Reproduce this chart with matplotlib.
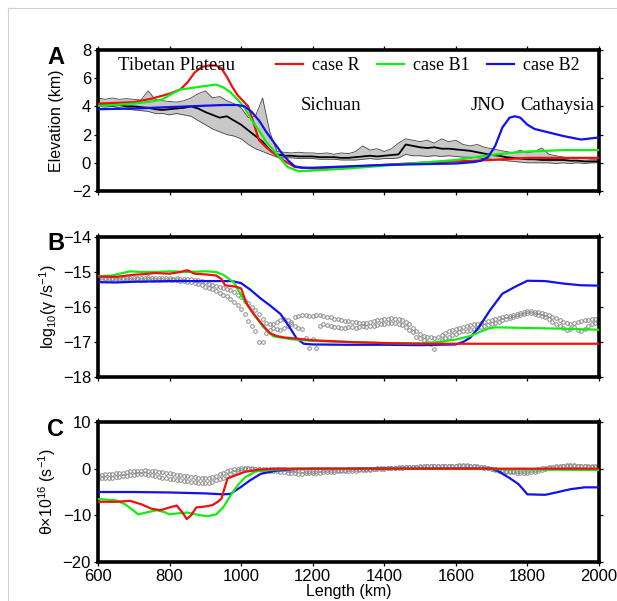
import matplotlib
matplotlib.use("Agg")
import matplotlib.pyplot as plt
from matplotlib.lines import Line2D
import numpy as np

plt.rcParams["font.family"] = ["Liberation Sans", "DejaVu Sans"]
plt.rcParams["mathtext.default"] = "regular"

# ---------------- panel A: elevation ----------------
topo_x = list(range(600, 2001, 20))
topo_mean = [4.1, 4.1, 4.05, 4.1, 4.0, 4.0, 3.95, 3.9, 3.8, 3.75,
             3.8, 3.85, 3.9, 4.0, 3.85, 3.6, 3.4, 3.2, 3.3, 3.0,
             2.7, 2.3, 1.9, 1.5, 0.9, 0.6, 0.5, 0.5, 0.45, 0.45,
             0.45, 0.4, 0.4, 0.4, 0.35, 0.35, 0.4, 0.45, 0.5, 0.45,
             0.5, 0.55, 0.6, 1.3, 1.2, 1.1, 1.05, 1.1, 1.0, 1.0,
             0.95, 0.9, 0.85, 0.75, 0.65, 0.55, 0.5, 0.4, 0.35, 0.3,
             0.25, 0.25, 0.2, 0.2, 0.2, 0.2, 0.15, 0.15, 0.1, 0.1, 0.1]
topo_max = [4.6, 4.5, 4.6, 4.5, 4.55, 4.5, 4.45, 5.1, 4.5, 4.4,
            4.35, 4.3, 4.4, 4.6, 4.9, 5.1, 4.6, 4.7, 4.4, 4.2,
            3.9, 3.2, 3.3, 4.6, 2.2, 0.8, 0.75, 0.7, 0.75, 0.7,
            0.7, 0.65, 0.7, 0.6, 0.7, 0.65, 0.8, 1.2, 0.9, 1.0,
            0.8, 1.0, 1.4, 1.7, 1.6, 1.5, 1.6, 1.4, 1.7, 1.5,
            1.6, 1.3, 1.2, 1.3, 1.1, 1.0, 0.9, 0.8, 0.7, 0.9,
            0.7, 0.8, 1.05, 0.6, 0.5, 0.4, 0.35, 0.35, 0.3, 0.25, 0.25]
topo_min = [4.0, 3.95, 4.0, 3.9, 3.8, 3.75, 3.7, 3.65, 3.5, 3.5,
            3.4, 3.5, 3.4, 3.3, 3.0, 2.7, 2.4, 2.2, 2.0, 1.9,
            1.7, 1.3, 1.0, 0.8, 0.6, 0.4, 0.35, 0.35, 0.3, 0.3,
            0.3, 0.25, 0.25, 0.25, 0.2, 0.2, 0.2, 0.25, 0.3, 0.25,
            0.3, 0.3, 0.35, 0.6, 0.5, 0.5, 0.45, 0.5, 0.45, 0.5,
            0.45, 0.4, 0.4, 0.35, 0.3, 0.25, 0.2, 0.15, 0.1, 0.05,
            0.0, 0.0, 0.0, 0.0, -0.05, 0.0, -0.05, 0.0, -0.05, 0.0, 0.0]

elev_r_x = [600, 650, 700, 750, 800, 830, 850, 870, 890, 910, 930, 945, 960, 975, 990,
            1005, 1020, 1035, 1050, 1070, 1090, 1110, 1130, 1150, 1200, 1300, 1400,
            1500, 1600, 1700, 1800, 1900, 2000]
elev_r = [4.2, 4.25, 4.3, 4.55, 4.9, 5.2, 5.7, 6.4, 6.8, 6.9, 6.9, 6.7, 6.1, 5.4, 4.8,
          4.4, 4.0, 2.8, 1.6, 1.1, 0.7, 0.3, 0.0, -0.3, -0.4, -0.3, -0.15,
          0.0, 0.1, 0.2, 0.35, 0.35, 0.35]
elev_g_x = [600, 650, 700, 750, 780, 800, 830, 860, 900, 930, 950, 970, 990, 1010, 1030,
            1050, 1070, 1090, 1110, 1130, 1160, 1200, 1300, 1400, 1500, 1600, 1700,
            1750, 1800, 1900, 2000]
elev_g = [4.05, 4.1, 4.2, 4.35, 4.5, 4.8, 5.2, 5.3, 5.45, 5.55, 5.35, 5.0, 4.5, 3.9, 3.0,
          2.3, 1.5, 0.9, 0.3, -0.3, -0.6, -0.55, -0.4, -0.2, 0.0, 0.2, 0.55,
          0.7, 0.8, 0.9, 0.9]
elev_b_x = [600, 700, 800, 900, 950, 990, 1010, 1030, 1050, 1070, 1090, 1110, 1130, 1150,
            1170, 1200, 1300, 1400, 1500, 1600, 1650, 1670, 1690, 1710, 1730, 1750, 1765,
            1780, 1800, 1820, 1860, 1900, 1950, 2000]
elev_b = [3.8, 3.85, 3.95, 4.05, 4.1, 4.1, 4.0, 3.6, 3.0, 2.2, 1.5, 0.8, 0.2, -0.25,
          -0.35, -0.35, -0.25, -0.15, -0.1, -0.05, 0.05, 0.15, 0.4, 1.2, 2.5, 3.2, 3.3,
          3.2, 2.7, 2.4, 2.15, 1.9, 1.65, 1.8]

# ---------------- panel B: log10 strain rate ----------------
obs_x = list(range(600, 2001, 10))
obs_b1 = [-15.15, -15.15, -15.16, -15.17, -15.16, -15.18, -15.17, -15.18, -15.18, -15.17,
          -15.18, -15.17, -15.16, -15.17, -15.15, -15.16, -15.17, -15.16, -15.17, -15.18,
          -15.18, -15.19, -15.18, -15.20, -15.19, -15.20, -15.21, -15.22, -15.24, -15.26,
          -15.30, -15.33, -15.36, -15.40, -15.43, -15.46, -15.50, -15.52, -15.58, -15.65,
          -15.72, -15.82, -15.90, -16.00, -16.10, -16.20, -16.35, -16.45, -16.50, -16.48,
          -16.42, -16.38, -16.35, -16.38, -16.42, -16.30, -16.25, -16.22, -16.24, -16.25,
          -16.26, -16.24, -16.22, -16.25, -16.28, -16.30, -16.33, -16.35, -16.38, -16.40,
          -16.40, -16.42, -16.44, -16.45, -16.46, -16.45, -16.43, -16.40, -16.38, -16.36,
          -16.34, -16.33, -16.32, -16.33, -16.35, -16.38, -16.42, -16.50, -16.60, -16.70,
          -16.78, -16.82, -16.85, -16.86, -16.88, -16.85, -16.80, -16.75, -16.70, -16.66,
          -16.62, -16.60, -16.58, -16.55, -16.52, -16.50, -16.48, -16.45, -16.42, -16.40,
          -16.38, -16.35, -16.32, -16.30, -16.27, -16.25, -16.22, -16.20, -16.16, -16.14,
          -16.12, -16.12, -16.13, -16.15, -16.17, -16.20, -16.24, -16.28, -16.32, -16.38,
          -16.42, -16.45, -16.48, -16.45, -16.42, -16.40, -16.38, -16.36, -16.35, -16.34,
          -16.33]
obs_b2 = [-15.20, -15.21, -15.20, -15.22, -15.21, -15.22, -15.22, -15.21, -15.22, -15.22,
          -15.22, -15.21, -15.22, -15.22, -15.21, -15.22, -15.22, -15.23, -15.22, -15.23,
          -15.23, -15.24, -15.24, -15.25, -15.26, -15.28, -15.30, -15.32, -15.35, -15.38,
          -15.42, -15.46, -15.50, -15.55, -15.60, -15.65, -15.70, -15.78, -15.85, -15.95,
          -16.05, -16.20, -16.40, -16.55, -16.70, -17.00, -17.00, -16.75, -16.65, -16.60,
          -16.62, -16.65, -16.60, -16.55, -16.50, -16.55, -16.60, -16.62, -16.90, -17.18,
          -16.92, -17.18, -16.55, -16.50, -16.52, -16.55, -16.58, -16.58, -16.60, -16.60,
          -16.58, -16.58, -16.60, -16.58, -16.55, -16.56, -16.55, -16.54, -16.52, -16.50,
          -16.48, -16.46, -16.45, -16.46, -16.48, -16.52, -16.56, -16.65, -16.72, -16.85,
          -16.90, -16.95, -17.00, -17.05, -17.20, -17.02, -16.95, -16.90, -16.85, -16.80,
          -16.76, -16.72, -16.70, -16.68, -16.66, -16.62, -16.60, -16.58, -16.55, -16.52,
          -16.50, -16.46, -16.42, -16.38, -16.35, -16.32, -16.28, -16.25, -16.22, -16.20,
          -16.18, -16.18, -16.20, -16.22, -16.25, -16.30, -16.35, -16.42, -16.50, -16.55,
          -16.60, -16.65, -16.62, -16.58, -16.65, -16.70, -16.62, -16.55, -16.50, -16.45,
          -16.42]

rate_r_x = [600, 650, 700, 730, 760, 800, 830, 850, 870, 900, 930, 945, 955, 970, 985,
            1000, 1015, 1035, 1055, 1080, 1100, 1120, 1150, 1200, 1300, 1400, 1500, 2000]
rate_r = [-15.13, -15.14, -15.08, -15.06, -15.03, -15.05, -15.0, -14.95, -15.05, -15.07,
          -15.1, -15.2, -15.38, -15.4, -15.42, -15.47, -15.9, -16.2, -16.45, -16.75,
          -16.83, -16.87, -16.9, -16.95, -17.0, -17.03, -17.05, -17.05]
rate_g_x = [600, 640, 660, 690, 720, 760, 800, 850, 900, 930, 950, 980, 1005, 1035, 1060,
            1090, 1140, 1200, 1300, 1400, 1500, 1550, 1600, 1640, 1670, 1690, 1710, 1800,
            1900, 2000]
rate_g = [-15.12, -15.1, -15.05, -14.98, -15.0, -15.0, -14.98, -15.0, -14.98, -15.0,
          -15.08, -15.3, -15.75, -16.2, -16.55, -16.84, -16.92, -16.97, -17.0, -17.03,
          -17.04, -17.0, -16.93, -16.83, -16.7, -16.62, -16.58, -16.6, -16.62, -16.65]
rate_b_x = [600, 650, 700, 800, 900, 975, 1000, 1025, 1055, 1080, 1110, 1135, 1155, 1175,
            1200, 1300, 1400, 1500, 1600, 1620, 1640, 1665, 1695, 1730, 1770, 1800, 1850,
            1900, 1950, 2000]
rate_b = [-15.29, -15.3, -15.28, -15.26, -15.26, -15.26, -15.32, -15.5, -15.76, -15.95,
          -16.2, -16.57, -16.9, -17.05, -17.07, -17.08, -17.08, -17.09, -17.07, -17.0,
          -16.88, -16.57, -16.1, -15.62, -15.4, -15.25, -15.26, -15.33, -15.38, -15.39]

# ---------------- panel C: theta x 1e16 ----------------
obs_c1 = [-1.2, -1.3, -1.2, -1.1, -1.2, -1.0, -1.0, -0.9, -0.8, -0.6,
          -0.6, -0.5, -0.4, -0.3, -0.4, -0.5, -0.6, -0.7, -0.8, -0.9,
          -1.0, -1.1, -1.3, -1.4, -1.5, -1.6, -1.7, -1.8, -1.9, -2.0,
          -2.0, -1.9, -1.7, -1.5, -1.2, -0.9, -0.6, -0.3, -0.1, 0.0,
          0.1, 0.1, 0.1, 0.0, 0.0, 0.0, 0.0, 0.0, 0.0, 0.0,
          0.0, -0.1, -0.1, -0.2, -0.2, -0.3, -0.3, -0.4, -0.4, -0.4,
          -0.4, -0.4, -0.3, -0.3, -0.3, -0.3, -0.2, -0.2, -0.2, -0.2,
          -0.1, -0.1, -0.1, -0.1, 0.0, 0.0, 0.0, 0.0, 0.1, 0.1,
          0.1, 0.2, 0.2, 0.2, 0.3, 0.3, 0.3, 0.4, 0.4, 0.4,
          0.5, 0.5, 0.5, 0.5, 0.5, 0.6, 0.6, 0.6, 0.6, 0.6,
          0.6, 0.7, 0.7, 0.7, 0.6, 0.6, 0.5, 0.4, 0.3, 0.2,
          0.0, -0.1, -0.2, -0.3, -0.4, -0.4, -0.5, -0.5, -0.5, -0.5,
          -0.4, -0.3, -0.2, -0.1, 0.1, 0.2, 0.3, 0.4, 0.5, 0.6,
          0.6, 0.7, 0.7, 0.7, 0.6, 0.6, 0.6, 0.5, 0.5, 0.5,
          0.4]
obs_c2 = [-2.2, -2.1, -2.0, -2.0, -1.9, -1.8, -1.7, -1.6, -1.5, -1.4,
          -1.3, -1.2, -1.1, -1.2, -1.3, -1.4, -1.6, -1.8, -1.9, -2.1,
          -2.2, -2.3, -2.4, -2.5, -2.6, -2.7, -2.8, -2.9, -3.0, -3.1,
          -3.1, -3.0, -2.8, -2.5, -2.2, -1.9, -1.5, -1.1, -0.7, -0.4,
          -0.2, -0.1, 0.0, 0.1, 0.0, -0.1, -0.2, -0.3, -0.4, -0.5,
          -0.6, -0.7, -0.8, -0.9, -1.0, -1.0, -1.1, -1.1, -1.0, -1.0,
          -1.0, -0.9, -0.9, -0.8, -0.8, -0.7, -0.7, -0.6, -0.6, -0.5,
          -0.5, -0.4, -0.4, -0.3, -0.3, -0.2, -0.2, -0.1, -0.1, 0.0,
          0.0, 0.1, 0.1, 0.2, 0.2, 0.2, 0.3, 0.3, 0.3, 0.4,
          0.4, 0.4, 0.5, 0.5, 0.5, 0.5, 0.5, 0.6, 0.6, 0.6,
          0.6, 0.6, 0.6, 0.5, 0.5, 0.5, 0.4, 0.3, 0.2, 0.1,
          -0.1, -0.3, -0.5, -0.6, -0.7, -0.8, -0.8, -0.9, -0.9, -0.9,
          -0.9, -0.8, -0.7, -0.5, -0.3, -0.1, 0.1, 0.2, 0.3, 0.4,
          0.5, 0.5, 0.5, 0.6, 0.6, 0.5, 0.5, 0.4, 0.4, 0.3,
          0.3]

theta_r_x = [600, 650, 690, 720, 750, 775, 800, 820, 835, 848, 860, 875, 900, 920, 935,
             945, 952, 962, 985, 1010, 1050, 1100, 1200, 2000]
theta_r = [-7.1, -7.1, -6.9, -7.6, -8.6, -8.9, -8.3, -7.9, -9.3, -10.8, -10.0, -8.3,
           -8.1, -7.8, -7.1, -6.4, -4.6, -2.1, -1.4, -0.7, -0.2, 0.0, 0.0, 0.0]
theta_g_x = [600, 650, 675, 700, 712, 740, 765, 785, 800, 820, 850, 880, 905, 930, 950,
             970, 990, 1010, 1040, 1090, 1150, 1700, 2000]
theta_g = [-6.5, -6.8, -7.6, -9.0, -9.8, -9.3, -8.9, -9.3, -9.8, -9.6, -9.4, -9.9,
           -10.2, -9.8, -8.3, -5.8, -3.6, -1.9, -0.6, -0.2, 0.0, -0.1, -0.3]
theta_b_x = [600, 700, 800, 900, 950, 970, 1000, 1025, 1055, 1100, 1150, 1200, 1700,
             1720, 1750, 1775, 1800, 1850, 1880, 1920, 1960, 2000]
theta_b = [-5.0, -5.0, -5.1, -5.3, -5.5, -5.4, -3.9, -2.5, -1.1, -0.4, -0.1, 0.0, 0.0,
           -0.6, -2.0, -3.3, -5.5, -5.6, -5.1, -4.4, -4.0, -4.0]

x_ticks = [600, 800, 1000, 1200, 1400, 1600, 1800, 2000]

RED = "#ee1111"
GREEN = "#11ee11"
BLUE = "#1111ee"
SERIF = ["Liberation Serif", "DejaVu Serif"]
SERIF_SIZE = 13.5

fig = plt.figure(figsize=(6.17, 6.01), dpi=100)
fig.patch.set_facecolor("white")

L, W = 0.1588, 0.812
axA = fig.add_axes([L, 0.6822, W, 0.2346])
axB = fig.add_axes([L, 0.3727, W, 0.2330])
axC = fig.add_axes([L, 0.0649, W, 0.2329])


def style(ax, yticks):
    ax.set_xlim(600, 2000)
    ax.set_xticks(x_ticks)
    ax.set_yticks(yticks)
    ax.set_ylim(yticks[0], yticks[-1])
    for sp in ax.spines.values():
        sp.set_linewidth(2.6)
        sp.set_color("black")
    ax.tick_params(direction="out", length=3, width=0.9, top=True, right=True,
                   labelsize=12, pad=2)


# panel A
axA.fill_between(topo_x, topo_min, topo_max, color="#c8c8c8", lw=0, zorder=1)
axA.plot(topo_x, topo_max, color="#444444", lw=0.6, zorder=2)
axA.plot(topo_x, topo_min, color="#444444", lw=0.6, zorder=2)
axA.plot(topo_x, topo_mean, color="black", lw=1.3, zorder=2)
axA.plot(elev_r_x, elev_r, color=RED, lw=1.6, zorder=3, label="case R")
axA.plot(elev_g_x, elev_g, color=GREEN, lw=1.6, zorder=3, label="case B1")
axA.plot(elev_b_x, elev_b, color=BLUE, lw=1.6, zorder=4, label="case B2")
style(axA, [-2, 0, 2, 4, 6, 8])
axA.set_yticklabels(["\u22122", "0", "2", "4", "6", "8"])
axA.tick_params(labelbottom=False)
axA.set_ylabel("Elevation (km)", fontsize=11.5, labelpad=6)
axA.legend(loc="center left", bbox_to_anchor=(0.355, 0.887), ncol=3, frameon=False,
           borderpad=0, borderaxespad=0, handlelength=1.5, handletextpad=0.5,
           columnspacing=0.95, prop={"family": SERIF, "size": 13})
axA.text(656, 6.9, "Tibetan Plateau", family=SERIF, fontsize=SERIF_SIZE, va="center",
         ha="left", zorder=5)
axA.text(1250, 4.05, "Sichuan", family=SERIF, fontsize=SERIF_SIZE, va="center", ha="center")
axA.text(1688, 4.05, "JNO", family=SERIF, fontsize=SERIF_SIZE, va="center", ha="center")
axA.text(1884, 4.05, "Cathaysia", family=SERIF, fontsize=SERIF_SIZE, va="center", ha="center")

# panel B
for row in (obs_b1, obs_b2):
    axB.plot(obs_x, row, ls="none", marker="o", ms=2.6, mfc="none", mec="#8a8a8a",
             mew=0.7, zorder=2)
axB.plot(rate_b_x, rate_b, color=BLUE, lw=1.6, zorder=3)
axB.plot(rate_g_x, rate_g, color=GREEN, lw=1.6, zorder=3)
axB.plot(rate_r_x, rate_r, color=RED, lw=1.6, zorder=4)
style(axB, [-18, -17, -16, -15, -14])
axB.set_yticklabels(["\u221218", "\u221217", "\u221216", "\u221215", "\u221214"])
axB.tick_params(labelbottom=False)
axB.set_ylabel("log$_{10}$(\u03b3 /s$^{-1}$)", fontsize=11.5, labelpad=3)

# panel C
for row in (obs_c1, obs_c2):
    axC.plot(obs_x, row, ls="none", marker="o", ms=2.6, mfc="none", mec="#8a8a8a",
             mew=0.7, zorder=2)
axC.plot(theta_b_x, theta_b, color=BLUE, lw=1.6, zorder=3)
axC.plot(theta_g_x, theta_g, color=GREEN, lw=1.6, zorder=3)
axC.plot(theta_r_x, theta_r, color=RED, lw=1.6, zorder=4)
style(axC, [-20, -10, 0, 10])
axC.set_yticklabels(["\u221220", "\u221210", "0", "10"])
axC.set_ylabel("\u03b8\u00d710$^{16}$ (s$^{-1}$)", fontsize=11.5, labelpad=3)
axC.set_xlabel("Length (km)", fontsize=11.5, labelpad=0)

# panel letters
for lab, yy in (("A", 57), ("B", 244), ("C", 429)):
    fig.text(56 / 617, 1 - yy / 601, lab, fontsize=17, fontweight="bold",
             ha="center", va="center")

# thin page border
fig.add_artist(Line2D([8 / 617, 8 / 617], [0, 1 - 8 / 601], color="#d0d0d0", lw=0.8))
fig.add_artist(Line2D([8 / 617, 1], [1 - 8 / 601, 1 - 8 / 601], color="#d0d0d0", lw=0.8))

fig.savefig("out.png", dpi=100, facecolor="white")
plt.close(fig)
